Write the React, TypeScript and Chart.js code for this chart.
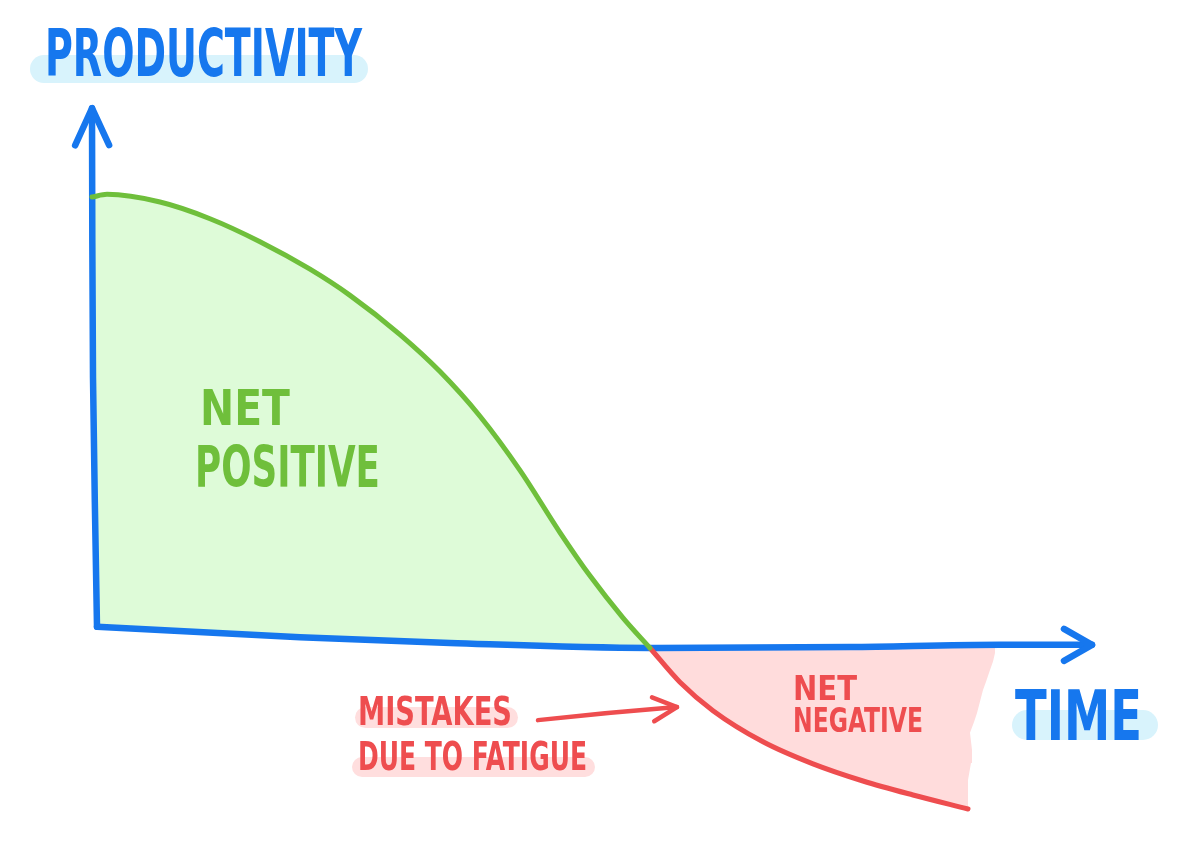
import { useEffect, useRef } from 'react';
import { Chart, registerables } from 'chart.js';

Chart.register(...registerables);

// ---- data (time in arbitrary hours, productivity in %) ----
const focusTime = [0, 1.5, 6.8, 11.8, 16.8, 21.8, 25.8, 30.8, 34.8, 38.8, 42.8, 46.8, 49.8, 53.1, 55.8];
const netPositive = [100, 100.6, 98.9, 95.2, 90.1, 84.0, 78.2, 69.5, 61.3, 51.4, 39.4, 25.6, 16.0, 6.7, 0];

const fatigueTime = [55.8, 58.8, 62.1, 67.1, 72.1, 77.1, 82.1, 87.6];
const netNegative = [0, -7.6, -13.9, -20.8, -25.7, -29.5, -32.6, -35.7];

// ragged right edge where the red shading stops (bottom to top)
const shadeEdgeTime = [87.6, 87.6, 87.9, 88.0, 87.8, 88.2, 88.5, 89.1, 89.4, 89.8, 90.1, 90.3, 90.3];
const shadeEdgeValue = [-34.2, -29.3, -25.5, -22.6, -18.8, -16.4, -14.4, -9.3, -7.5, -4.9, -3.0, -1.1, 0.4];

// hand-drawn axes
const timeAxisTime = [0.5, 20.8, 35.8, 55.8, 75.8, 90.8, 100];
const timeAxisValue = [4.7, 2.4, 1.1, 0, 0.2, 0.7, 0.7];
const prodAxisTime = [0.5, 0.1, 0];
const prodAxisValue = [4.7, 60, 119.7];

const X_MIN = -9.2;
const X_MAX = 109.4;
const Y_MIN = -44.8;
const Y_MAX = 143.7;

const BLUE = '#1677ee';
const GREEN = '#6fbf3b';
const RED = '#ee4d4f';
const GREEN_FILL = '#defbd8';
const RED_FILL = '#ffdcdc';
const BLUE_HL = '#d8f3fc';
const RED_HL = '#ffdede';

const zip = (xs: number[], ys: number[]) => xs.map((x, i) => ({ x, y: ys[i] }));

type Label = { text: string; left: number; base: number; width: number; cap: number; color: string };
const labels: Label[] = [
  { text: 'PRODUCTIVITY', left: 45, base: 76, width: 317, cap: 48, color: BLUE },
  { text: 'TIME', left: 1015, base: 740, width: 127, cap: 51, color: BLUE },
  { text: 'NET', left: 200, base: 425, width: 90, cap: 36, color: GREEN },
  { text: 'POSITIVE', left: 195, base: 487, width: 185, cap: 42, color: GREEN },
  { text: 'NET', left: 793, base: 700, width: 64, cap: 25, color: RED },
  { text: 'NEGATIVE', left: 793, base: 732, width: 130, cap: 24, color: RED },
  { text: 'MISTAKES', left: 358, base: 725, width: 154, cap: 28, color: RED },
  { text: 'DUE TO FATIGUE', left: 358, base: 770, width: 229, cap: 28, color: RED },
];

type HL = { x: number; y: number; w: number; h: number; color: string };
const highlights: HL[] = [
  { x: 30, y: 55, w: 338, h: 28, color: BLUE_HL },
  { x: 1012, y: 710, w: 146, h: 30, color: BLUE_HL },
  { x: 355, y: 707, w: 163, h: 21, color: RED_HL },
  { x: 352, y: 757, w: 243, h: 20, color: RED_HL },
];

function drawLabel(ctx: CanvasRenderingContext2D, l: Label) {
  const size = l.cap / 0.73;
  ctx.save();
  ctx.font = `bold ${size}px "DejaVu Sans Condensed", "DejaVu Sans", sans-serif`;
  const w = ctx.measureText(l.text).width;
  ctx.translate(l.left, l.base);
  ctx.scale(l.width / w, 1);
  ctx.fillStyle = l.color;
  ctx.textBaseline = 'alphabetic';
  ctx.fillText(l.text, 0, 0);
  ctx.restore();
}

function pill(ctx: CanvasRenderingContext2D, h: HL) {
  const r = h.h / 2;
  ctx.save();
  ctx.fillStyle = h.color;
  ctx.beginPath();
  ctx.moveTo(h.x + r, h.y);
  ctx.lineTo(h.x + h.w - r, h.y);
  ctx.arc(h.x + h.w - r, h.y + r, r, -Math.PI / 2, Math.PI / 2);
  ctx.lineTo(h.x + r, h.y + h.h);
  ctx.arc(h.x + r, h.y + r, r, Math.PI / 2, (3 * Math.PI) / 2);
  ctx.closePath();
  ctx.fill();
  ctx.restore();
}

function arrowHead(ctx: CanvasRenderingContext2D, tx: number, ty: number, fx: number, fy: number, len: number, half: number, color: string, lw: number) {
  const dx = tx - fx;
  const dy = ty - fy;
  const d = Math.hypot(dx, dy) || 1;
  const ux = dx / d;
  const uy = dy / d;
  const bx = tx - ux * len;
  const by = ty - uy * len;
  ctx.save();
  ctx.strokeStyle = color;
  ctx.lineWidth = lw;
  ctx.lineCap = 'round';
  ctx.lineJoin = 'round';
  ctx.beginPath();
  ctx.moveTo(bx - uy * half, by + ux * half);
  ctx.lineTo(tx, ty);
  ctx.lineTo(bx + uy * half, by - ux * half);
  ctx.stroke();
  ctx.restore();
}

// mistakes arrow (data coordinates)
const mistakeArrowFrom = { x: 44.6, y: -16.0 };
const mistakeArrowTo = { x: 58.5, y: -13.1 };

const decorPlugin = {
  id: 'sketchDecor',
  beforeDatasetsDraw(chart: any) {
    const ctx = chart.ctx as CanvasRenderingContext2D;
    highlights.forEach((h) => pill(ctx, h));
  },
  afterDatasetsDraw(chart: any) {
    const ctx = chart.ctx as CanvasRenderingContext2D;
    const xs = chart.scales.x;
    const ys = chart.scales.y;
    // axis arrowheads from the axis datasets' end points
    const tAxis = chart.getDatasetMeta(2).data;
    const pAxis = chart.getDatasetMeta(3).data;
    const tTip = tAxis[tAxis.length - 1];
    arrowHead(ctx, tTip.x, tTip.y, tTip.x - 10, tTip.y, 28, 16, BLUE, 6.5);
    const pTip = pAxis[pAxis.length - 1];
    const pPrev = pAxis[pAxis.length - 2];
    arrowHead(ctx, pTip.x, pTip.y, pPrev.x, pPrev.y, 37, 17, BLUE, 6.5);

    // mistakes arrow
    const ax = xs.getPixelForValue(mistakeArrowFrom.x);
    const ay = ys.getPixelForValue(mistakeArrowFrom.y);
    const bx = xs.getPixelForValue(mistakeArrowTo.x);
    const by = ys.getPixelForValue(mistakeArrowTo.y);
    ctx.save();
    ctx.strokeStyle = RED;
    ctx.lineWidth = 4.5;
    ctx.lineCap = 'round';
    ctx.beginPath();
    ctx.moveTo(ax, ay);
    ctx.quadraticCurveTo((ax + bx) / 2, (ay + by) / 2 - 1, bx, by);
    ctx.stroke();
    ctx.restore();
    arrowHead(ctx, bx, by, ax, ay, 24, 12, RED, 4.5);

    labels.forEach((l) => drawLabel(ctx, l));
  },
};

export default function App() {
  const ref = useRef<HTMLCanvasElement | null>(null);

  useEffect(() => {
    document.body.style.margin = '0';
    const canvas = ref.current;
    if (!canvas) return;

    const greenCurve = zip(focusTime, netPositive);
    const redCurve = zip(fatigueTime, netNegative);
    const timeAxis = zip(timeAxisTime, timeAxisValue);
    const prodAxis = zip(prodAxisTime, prodAxisValue);
    const crossing = focusTime[focusTime.length - 1];
    const edgeTop = shadeEdgeTime[shadeEdgeTime.length - 1];

    const greenArea = [
      ...greenCurve,
      ...timeAxis.filter((p) => p.x < crossing).reverse(),
    ];
    const redArea = [
      ...redCurve,
      ...zip(shadeEdgeTime, shadeEdgeValue),
      ...timeAxis.filter((p) => p.x > crossing && p.x < edgeTop).reverse(),
    ];

    const chart = new Chart(canvas, {
      type: 'scatter',
      data: {
        datasets: [
          {
            label: 'Net positive',
            data: greenCurve,
            showLine: true,
            borderColor: GREEN,
            borderWidth: 5,
            pointRadius: 0,
            cubicInterpolationMode: 'monotone',
            borderCapStyle: 'round',
            borderJoinStyle: 'round',
            fill: false,
            order: 0,
          },
          {
            label: 'Net negative',
            data: redCurve,
            showLine: true,
            borderColor: RED,
            borderWidth: 5,
            pointRadius: 0,
            cubicInterpolationMode: 'monotone',
            borderCapStyle: 'round',
            borderJoinStyle: 'round',
            fill: false,
            order: 0,
          },
          {
            label: 'Time axis',
            data: timeAxis,
            showLine: true,
            borderColor: BLUE,
            borderWidth: 6.5,
            pointRadius: 0,
            cubicInterpolationMode: 'monotone',
            borderCapStyle: 'round',
            fill: false,
            order: 1,
          },
          {
            label: 'Productivity axis',
            data: prodAxis,
            showLine: true,
            borderColor: BLUE,
            borderWidth: 6.5,
            pointRadius: 0,
            tension: 0.3,
            borderCapStyle: 'round',
            fill: false,
            order: 1,
          },
          {
            label: 'Positive area',
            data: greenArea,
            showLine: true,
            borderColor: 'transparent',
            borderWidth: 0,
            pointRadius: 0,
            tension: 0,
            backgroundColor: GREEN_FILL,
            fill: 'shape',
            order: 2,
          },
          {
            label: 'Negative area',
            data: redArea,
            showLine: true,
            borderColor: 'transparent',
            borderWidth: 0,
            pointRadius: 0,
            tension: 0,
            backgroundColor: RED_FILL,
            fill: 'shape',
            order: 2,
          },
        ] as any,
      },
      options: {
        animation: false,
        responsive: false,
        devicePixelRatio: 1,
        layout: { padding: 0, autoPadding: false },
        plugins: {
          legend: { display: false },
          tooltip: { enabled: false },
          title: { display: false },
        },
        events: [],
        scales: {
          x: { type: 'linear', min: X_MIN, max: X_MAX, display: false },
          y: { type: 'linear', min: Y_MIN, max: Y_MAX, display: false },
        },
      } as any,
      plugins: [decorPlugin],
    });

    return () => chart.destroy();
  }, []);

  return (
    <div style={{ position: 'absolute', left: 0, top: 0, width: 1186, height: 850, background: '#fff' }}>
      <canvas ref={ref} width={1186} height={850} style={{ display: 'block' }} />
    </div>
  );
}
